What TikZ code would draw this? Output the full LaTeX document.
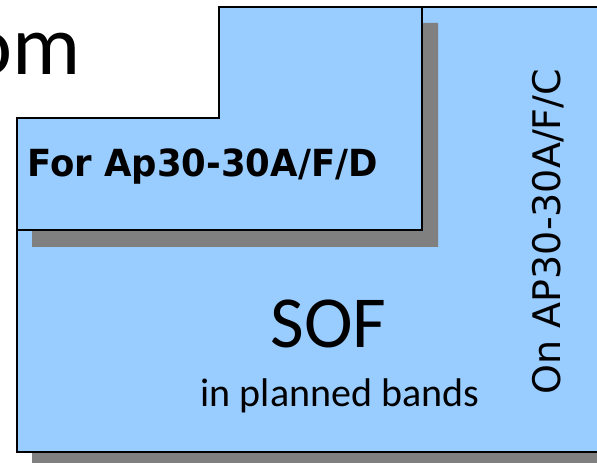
\documentclass[tikz,border=0pt]{standalone}
\usepackage{fontspec}
\newfontfamily\dejavu{DejaVu Sans}
\newfontfamily\carlito{Carlito}
\definecolor{bandblue}{RGB}{153,204,255}
\definecolor{shadowgray}{RGB}{128,128,128}
\tikzset{every picture/.style={line width=0.75pt}}
\tikzset{
  region/.style={draw={rgb, 255:red, 0; green, 0; blue, 0 },line width=1.2pt,fill=bandblue},
  shade/.style={fill=shadowgray,draw opacity=0},
  label/.style={inner sep=0pt,anchor=base}
}

\begin{document}
\begin{tikzpicture}[x=0.75pt,y=0.75pt,yscale=-1,xscale=1]
	\useasboundingbox (0,0) rectangle (597,463);

	%Shape: Polygon [id:shadowsof] 
	\fill [shade] (32,134) -- (234,134) -- (234,23) -- (625,23) -- (625,468) -- (32,468) -- cycle ;
	%Shape: Polygon [id:regionsof] 
	\draw [region] (17,118) -- (219,118) -- (219,7) -- (610,7) -- (610,452) -- (17,452) -- cycle ;
	%Shape: Polygon [id:shadowfor] 
	\fill [shade] (32,134) -- (234,134) -- (234,23) -- (438,23) -- (438,247) -- (32,247) -- cycle ;
	%Shape: Polygon [id:regionfor] 
	\draw [region] (17,118) -- (219,118) -- (219,7) -- (422,7) -- (422,230) -- (17,230) -- cycle ;

	% Text Node
	\node [label,anchor=base east] (title) at (81,75) {\carlito\fontsize{64}{70}\selectfont om};
	% Text Node
	\node [label,xscale=0.95] (forap) at (202.5,177) {\dejavu\bfseries\fontsize{28}{33}\selectfont For Ap30-30A/F/D};
	% Text Node
	\node [label] (sof) at (328.5,348) {\carlito\fontsize{55}{60}\selectfont SOF};
	% Text Node
	\node [label] (bands) at (340,407) {\carlito\fontsize{30}{35}\selectfont in planned bands};
	% Text Node
	\node [label,rotate=90] (onap) at (560,231.5) {\dejavu\fontsize{28.5}{33}\selectfont On AP30-30A/F/C};

\end{tikzpicture}
\end{document}
